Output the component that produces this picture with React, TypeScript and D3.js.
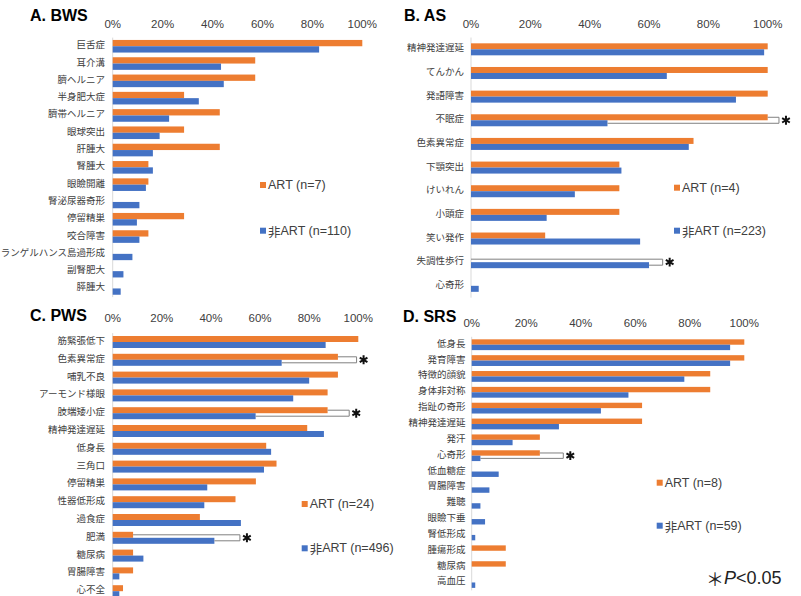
import React from "react";
import * as d3 from "d3";

const ORANGE = "#ED7D31";
const BLUE = "#4472C4";

const ticks = [0, 20, 40, 60, 80, 100];

// A. BWS
const bwsCategories = ["巨舌症", "耳介溝", "臍ヘルニア", "半身肥大症", "臍帯ヘルニア", "眼球突出", "肝腫大", "腎腫大", "眼瞼開離", "腎泌尿器奇形", "停留精巣", "咬合障害", "ランゲルハンス島過形成", "副腎肥大", "膵腫大"];
const bwsArt = [100, 57.1, 57.1, 28.6, 42.9, 28.6, 42.9, 14.3, 14.3, 0, 28.6, 14.3, 0, 0, 0];
const bwsNonArt = [82.7, 43.4, 44.5, 34.5, 22.6, 18.8, 16.1, 16.1, 13.3, 10.7, 9.7, 10.7, 7.9, 4.3, 3.2];
const bwsLegend = ["ART (n=7)", "非ART (n=110)"];
const bwsSignificant: { category: string; to: number }[] = [];

// B. AS
const asCategories = ["精神発達遅延", "てんかん", "発語障害", "不眠症", "色素異常症", "下顎突出", "けいれん", "小頭症", "笑い発作", "失調性歩行", "心奇形"];
const asArt = [100, 100, 100, 100, 75, 50, 50, 50, 25, 0, 0];
const asNonArt = [98.8, 66, 89.3, 46, 73.4, 50.7, 35, 25.5, 57, 60, 2.6];
const asLegend = ["ART (n=4)", "非ART (n=223)"];
const asSignificant = [
  { category: "不眠症", to: 103.8 },
  { category: "失調性歩行", to: 64.6 },
];

// C. PWS
const pwsCategories = ["筋緊張低下", "色素異常症", "哺乳不良", "アーモンド様眼", "肢端矮小症", "精神発達遅延", "低身長", "三角口", "停留精巣", "性器低形成", "過食症", "肥満", "糖尿病", "胃腸障害", "心不全"];
const pwsArt = [100, 91.7, 91.7, 87.5, 87.5, 79.2, 62.5, 66.7, 58.3, 50, 35.5, 8.3, 8.3, 8.3, 4.2];
const pwsNonArt = [86.7, 68.8, 80, 73.5, 58.2, 86, 64.5, 61.6, 38.5, 37.3, 52.2, 41.4, 12.5, 2.7, 2.7];
const pwsLegend = ["ART (n=24)", "非ART (n=496)"];
const pwsSignificant = [
  { category: "色素異常症", to: 99.3 },
  { category: "肢端矮小症", to: 96.3 },
  { category: "肥満", to: 51.8 },
];

// D. SRS
const srsCategories = ["低身長", "発育障害", "特徴的顔貌", "身体非対称", "指趾の奇形", "精神発達遅延", "発汗", "心奇形", "低血糖症", "胃腸障害", "難聴", "眼瞼下垂", "腎低形成", "腫瘍形成", "糖尿病", "高血圧"];
const srsArt = [100, 100, 87.5, 87.5, 62.5, 62.5, 25, 25, 0, 0, 0, 0, 0, 12.5, 12.5, 0];
const srsNonArt = [94.8, 94.8, 78, 57.5, 47.4, 32, 15, 3.2, 9.9, 6.5, 3.2, 4.9, 1.3, 0, 0, 1.3];
const srsLegend = ["ART (n=8)", "非ART (n=59)"];
const srsSignificant = [{ category: "心奇形", to: 33.6 }];

const labelFont = "'Noto Sans CJK JP', 'Noto Sans', sans-serif";
const latinFont = "'Liberation Sans', Arial, sans-serif";

type Cfg = {
  title: string;
  titleX: number;
  titleY: number;
  x0: number;
  x1: number;
  top: number;
  step: number;
  barH: number;
  tickY: number;
  labelX: number;
  legendX: number;
  legendY: [number, number];
};

const Panel = ({ cfg, categories, art, nonArt, legend, significant }: {
  cfg: Cfg; categories: string[]; art: number[]; nonArt: number[]; legend: string[];
  significant: { category: string; to: number }[];
}) => {
  const x = d3.scaleLinear().domain([0, 100]).range([cfg.x0, cfg.x1]);
  const y = d3.scaleBand().domain(categories).range([cfg.top, cfg.top + categories.length * cfg.step]);
  const pad = (y.bandwidth() - 2 * cfg.barH) / 2;
  const star = d3.symbol().type(d3.symbolAsterisk).size(55)();

  return (
    <g>
      <text x={cfg.titleX} y={cfg.titleY} dominantBaseline="central" fontFamily={latinFont}
        fontWeight="bold" fontSize={16} fill="#000">{cfg.title}</text>
      {ticks.map(t => (
        <text key={t} x={x(t)} y={cfg.tickY} textAnchor="middle" dominantBaseline="central"
          fontFamily={latinFont} fontSize={11.5} fill="#404040">{t}%</text>
      ))}
      <line x1={x(0)} x2={x(0)} y1={y.range()[0]} y2={y.range()[1]} stroke="#d9d9d9" />
      {categories.map((c, i) => {
        const by = y(c)!;
        return (
          <g key={c}>
            <text x={cfg.labelX} y={by + y.bandwidth() / 2 - 2} textAnchor="end" dominantBaseline="central"
              fontFamily={labelFont} fontSize={9.5} fill="#404040">{c}</text>
            {art[i] > 0 && (
              <rect x={x(0)} y={by + pad} width={x(art[i]) - x(0)} height={cfg.barH} fill={ORANGE} />
            )}
            {nonArt[i] > 0 && (
              <rect x={x(0)} y={by + pad + cfg.barH} width={x(nonArt[i]) - x(0)} height={cfg.barH} fill={BLUE} />
            )}
          </g>
        );
      })}
      {significant.map(s => {
        const i = categories.indexOf(s.category);
        const by = y(s.category)!;
        const yTop = by + pad + cfg.barH / 2;
        const yBot = by + pad + cfg.barH * 1.5;
        const xr = x(s.to);
        return (
          <g key={s.category}>
            <path d={`M${x(art[i])},${yTop}H${xr}V${yBot}H${x(nonArt[i])}`} fill="none" stroke="#808080" strokeWidth={1} />
            <path d={star!} transform={`translate(${xr + 7},${(yTop + yBot) / 2})`} stroke="#111" strokeWidth={2} fill="none" />
          </g>
        );
      })}
      {legend.map((l, k) => (
        <g key={l}>
          <rect x={cfg.legendX} y={cfg.legendY[k] - 3} width={6} height={6} fill={k === 0 ? ORANGE : BLUE} />
          <text x={cfg.legendX + 8} y={cfg.legendY[k]} dominantBaseline="central" fontFamily={latinFont}
            fontSize={12.5} fill="#404040">
            {l.startsWith("非") ? (<><tspan fontFamily={labelFont}>非</tspan>{l.slice(1)}</>) : l}
          </text>
        </g>
      ))}
    </g>
  );
};

const cfgA: Cfg = { title: "A. BWS", titleX: 30, titleY: 15, x0: 112.7, x1: 362.3, top: 37.6, step: 17.3, barH: 6.3, tickY: 24, labelX: 105, legendX: 260, legendY: [185, 230.7] };
const cfgB: Cfg = { title: "B. AS", titleX: 404, titleY: 15, x0: 471, x1: 767.7, top: 37.5, step: 23.65, barH: 6, tickY: 24, labelX: 464, legendX: 674, legendY: [187.7, 230.7] };
const cfgC: Cfg = { title: "C. PWS", titleX: 30, titleY: 315, x0: 112.7, x1: 358.3, top: 333.1, step: 17.8, barH: 6, tickY: 318.3, labelX: 105, legendX: 301.7, legendY: [504, 548.3] };
const cfgD: Cfg = { title: "D. SRS", titleX: 403, titleY: 316, x0: 471.7, x1: 744.3, top: 336.8, step: 15.85, barH: 5.4, tickY: 323.3, labelX: 465.5, legendX: 656.7, legendY: [482.7, 525.7] };

export default function App() {
  return (
    <svg width={801} height={596} style={{ position: "absolute", left: 0, top: 0, background: "#fff" }}>
      <rect width={801} height={596} fill="#fff" />
      <Panel cfg={cfgA} categories={bwsCategories} art={bwsArt} nonArt={bwsNonArt} legend={bwsLegend} significant={bwsSignificant} />
      <Panel cfg={cfgB} categories={asCategories} art={asArt} nonArt={asNonArt} legend={asLegend} significant={asSignificant} />
      <Panel cfg={cfgC} categories={pwsCategories} art={pwsArt} nonArt={pwsNonArt} legend={pwsLegend} significant={pwsSignificant} />
      <Panel cfg={cfgD} categories={srsCategories} art={srsArt} nonArt={srsNonArt} legend={srsLegend} significant={srsSignificant} />
      <text x={706} y={578} dominantBaseline="central" fontSize={18} fill="#222" fontFamily={latinFont}>
        <tspan fontFamily={labelFont}>＊</tspan>
        <tspan fontStyle="italic">P</tspan>
        <tspan>&lt;0.05</tspan>
      </text>
    </svg>
  );
}
